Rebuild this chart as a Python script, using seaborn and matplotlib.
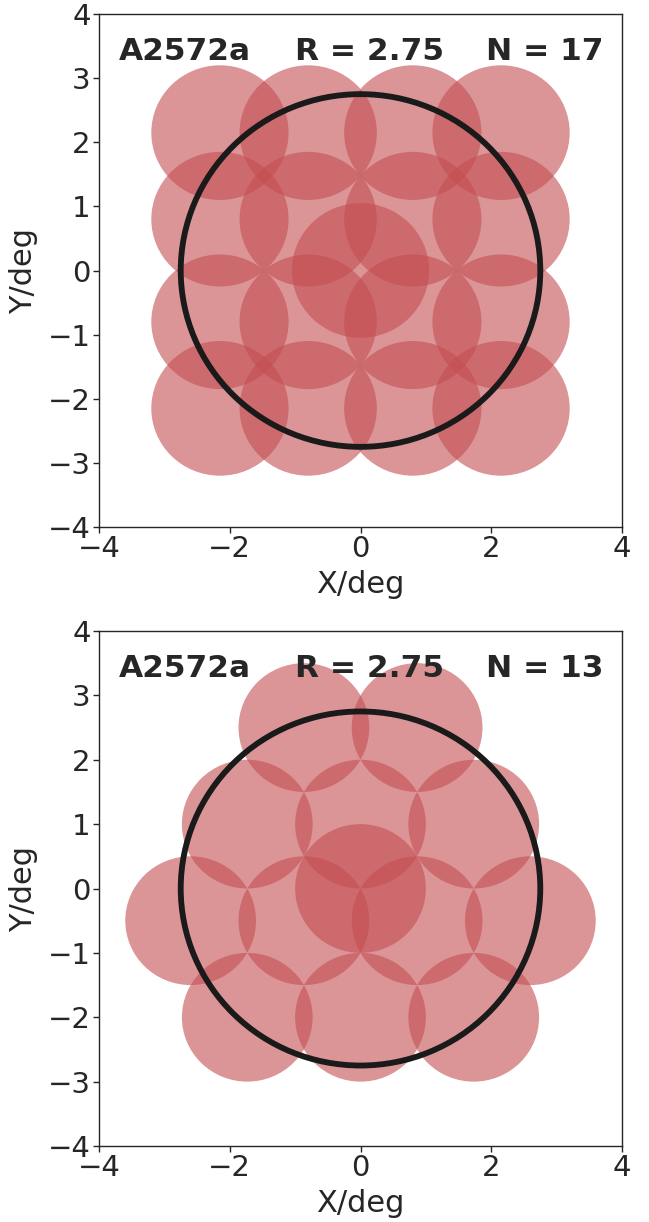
import matplotlib
matplotlib.use("Agg")
import matplotlib.pyplot as plt
from matplotlib.patches import Circle
import seaborn as sns

# ---- data ----
field = "A2572a"
big_radius = 2.75

# panel 1: 17 pointings (square grid + centre)
p1_x = [0.0, -2.15, -0.8, 0.8, 2.15, -2.15, -0.8, 0.8, 2.15,
        -2.15, -0.8, 0.8, 2.15, -2.15, -0.8, 0.8, 2.15]
p1_y = [0.0, 2.15, 2.15, 2.15, 2.15, 0.8, 0.8, 0.8, 0.8,
        -0.8, -0.8, -0.8, -0.8, -2.15, -2.15, -2.15, -2.15]
p1_r = 1.05

# panel 2: 13 pointings (hexagonal + centre)
p2_x = [0.0, -0.866, 0.866, -1.732, 0.0, 1.732,
        -2.598, -0.866, 0.866, 2.598, -1.732, 0.0, 1.732]
p2_y = [0.0, 2.5, 2.5, 1.0, 1.0, 1.0,
        -0.5, -0.5, -0.5, -0.5, -2.0, -2.0, -2.0]
p2_r = 1.0

xticks = [-4, -2, 0, 2, 4]
yticks = [-4, -3, -2, -1, 0, 1, 2, 3, 4]

sns.set_theme(style="ticks")
plt.rcParams['font.family'] = ['DejaVu Sans']

red = sns.color_palette("deep")[3]

fig = plt.figure(figsize=(6.49, 12.22), dpi=100)
ax1 = fig.add_axes([99/649, 1-527/1222, 523/649, 513/1222])
ax2 = fig.add_axes([99/649, 1-1146/1222, 523/649, 515/1222])

for ax, xs, ys, r in [(ax1, p1_x, p1_y, p1_r), (ax2, p2_x, p2_y, p2_r)]:
    for x, y in zip(xs, ys):
        ax.add_patch(Circle((x, y), r, facecolor=red, alpha=0.6,
                            edgecolor='none'))
    ax.add_patch(Circle((0, 0), big_radius, facecolor='none',
                        edgecolor='#1a1a1a', linewidth=4.2))
    ax.set_xlim(-4, 4)
    ax.set_ylim(-4, 4)
    ax.set_xticks(xticks)
    ax.set_yticks(yticks)
    ax.tick_params(labelsize=21, length=4, width=1, pad=2)
    ax.set_xlabel("X/deg", fontsize=22, labelpad=5)
    ax.set_ylabel("Y/deg", fontsize=22, labelpad=7)
    n = len(xs)
    kw = dict(fontsize=22.5, fontweight='bold', va='baseline', color='#262626')
    ax.text(-3.69, 3.29, field, ha='left', **kw)
    ax.text(0.14, 3.29, f"R = {big_radius}", ha='center', **kw)
    ax.text(3.71, 3.29, f"N = {n}", ha='right', **kw)
    for s in ax.spines.values():
        s.set_visible(True)
        s.set_linewidth(1.0)

fig.savefig("out.png", dpi=100)
